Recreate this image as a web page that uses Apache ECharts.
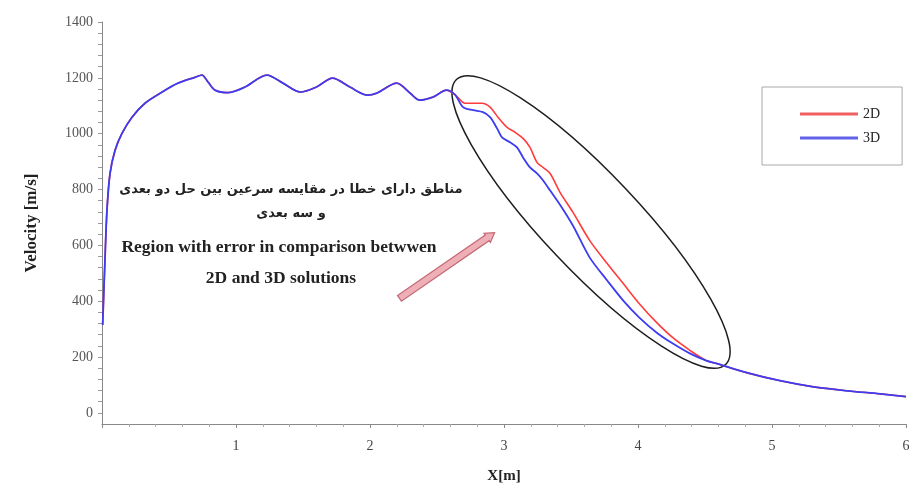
<!DOCTYPE html>
<html>
<head>
<meta charset="utf-8">
<script src="https://cdn.jsdelivr.net/npm/echarts@6/dist/echarts.min.js"></script>
<style>
html,body{margin:0;padding:0;background:#fff;}
#chart{width:912px;height:486px;}
</style>
</head>
<body>
<div id="chart"></div>
<script>
// ---- data ----
const x3D = [0.005, 0.022, 0.037, 0.06, 0.097, 0.149, 0.224, 0.321, 0.448, 0.567, 0.694, 0.746, 0.791, 0.843, 0.94, 1.067, 1.23, 1.35, 1.48, 1.60, 1.72, 1.85, 1.98, 2.05, 2.20, 2.30, 2.37, 2.47, 2.57, 2.634,
  2.694, 2.769, 2.843, 2.896, 2.948, 2.985, 3.045, 3.097, 3.142, 3.194, 3.246, 3.291, 3.343, 3.418, 3.515, 3.64, 3.77, 3.89, 4.01, 4.14, 4.26, 4.39, 4.51, 4.59,
  4.81, 5.06, 5.31, 5.56, 5.81, 6.0];
const v3D = [315, 546, 725, 858, 940, 1001, 1059, 1109, 1149, 1181, 1202, 1210, 1185, 1156, 1147, 1167, 1210, 1181, 1149, 1167, 1199, 1167, 1138, 1145, 1181, 1145, 1120, 1131, 1156, 1140,
  1095, 1084, 1077, 1059, 1019, 987, 969, 951, 915, 879, 858, 833, 797, 745, 670, 556, 474, 402, 341, 287, 248, 212, 187, 176,
  144, 115, 93, 79, 68, 58];

const x2D = [0.005, 0.022, 0.037, 0.06, 0.097, 0.149, 0.224, 0.321, 0.448, 0.567, 0.694, 0.746, 0.791, 0.843, 0.94, 1.067, 1.23, 1.35, 1.48, 1.60, 1.72, 1.85, 1.98, 2.05, 2.20, 2.30, 2.37, 2.47, 2.57, 2.634,
  2.709, 2.769, 2.836, 2.896, 2.955, 3.022, 3.082, 3.142, 3.194, 3.246, 3.291, 3.343, 3.418, 3.515, 3.64, 3.77, 3.89, 4.01, 4.14, 4.26, 4.39, 4.51, 4.59,
  4.81, 5.06, 5.31, 5.56, 5.81, 6.0];
const v2D = [315, 546, 725, 858, 940, 1001, 1059, 1109, 1149, 1181, 1202, 1210, 1185, 1156, 1147, 1167, 1210, 1181, 1149, 1167, 1199, 1167, 1138, 1145, 1181, 1145, 1120, 1131, 1156, 1140,
  1109, 1109, 1109, 1095, 1059, 1023, 1005, 983, 951, 897, 879, 858, 790, 718, 617, 535, 463, 391, 323, 269, 223, 187, 176,
  144, 115, 93, 79, 68, 58];

const yTickLabels = [0, 200, 400, 600, 800, 1000, 1200, 1400];
const xTickLabels = [1, 2, 3, 4, 5, 6];
const seriesNames = ['2D', '3D'];

const annoPersian1 = 'مناطق دارای خطا در مقایسه سرعین بین حل دو بعدی';
const annoPersian2 = 'و سه بعدی';
const annoEnglish1 = 'Region with error in comparison betwwen';
const annoEnglish2 = '2D and 3D solutions';

// ellipse defined in data space (ends of major axis)
const ellipseEndA = [2.645, 1194];
const ellipseEndB = [4.654, 173];
const arrowFrom = [2.22, 410];
const arrowTo = [2.93, 645];

// ---- build ----
const yMinorTicks = [];
for (let v = 0; v <= 1400; v += 40) yMinorTicks.push(v);

const serif = 'Liberation Serif';
const chart = echarts.init(document.getElementById('chart'));
const pair = (xs, vs) => xs.map((x, i) => [x, vs[i]]);

chart.setOption({
  animation: false,
  backgroundColor: '#fff',
  grid: {left: 102, right: 6, top: 22, bottom: 62, outerBoundsMode: 'none', containLabel: false},
  legend: {
    orient: 'vertical', left: 762, top: 87,
    padding: [19, 22, 19, 38],
    borderColor: '#aaa', borderWidth: 1,
    icon: 'rect',
    itemWidth: 58, itemHeight: 3, itemGap: 8,
    textStyle: {fontFamily: serif, fontSize: 14, color: '#222', lineHeight: 16},
    data: seriesNames
  },
  xAxis: {
    type: 'value', min: 0, max: 6, interval: 1,
    name: 'X[m]', nameLocation: 'middle', nameGap: 45,
    nameTextStyle: {fontFamily: serif, fontWeight: 'bold', fontSize: 15, color: '#222'},
    axisLine: {show: true, onZero: false, lineStyle: {color: '#888', width: 1}},
    axisTick: {show: true, length: 4, lineStyle: {color: '#888'}},
    minorTick: {show: true, splitNumber: 5, length: 3, lineStyle: {color: '#aaa'}},
    splitLine: {show: false},
    axisLabel: {
      fontFamily: serif, fontSize: 14, color: '#444', margin: 15,
      customValues: xTickLabels
    }
  },
  yAxis: {
    type: 'value', min: -40, max: 1400,
    name: 'Velocity [m/s]', nameLocation: 'middle', nameGap: 62, nameRotate: 90,
    nameTextStyle: {fontFamily: serif, fontWeight: 'bold', fontSize: 17, color: '#222'},
    axisLine: {show: true, lineStyle: {color: '#888', width: 1}},
    axisTick: {show: true, length: 4, lineStyle: {color: '#999'}, customValues: yMinorTicks},
    splitLine: {show: false},
    axisLabel: {
      fontFamily: serif, fontSize: 14, color: '#555', margin: 9,
      customValues: yTickLabels,
      formatter: (v) => String(v)
    }
  },
  series: [
    {name: seriesNames[0], type: 'line', data: pair(x2D, v2D), symbol: 'none', smooth: 0.3,
      lineStyle: {color: '#ff3c3c', width: 1.6}, itemStyle: {color: '#f06060'}},
    {name: seriesNames[1], type: 'line', data: pair(x3D, v3D), symbol: 'none', smooth: 0.3,
      lineStyle: {color: '#3c3cf0', width: 1.8}, itemStyle: {color: '#6262e8'}}
  ]
});

// annotations computed from data space
const pA = chart.convertToPixel({gridIndex: 0}, ellipseEndA);
const pB = chart.convertToPixel({gridIndex: 0}, ellipseEndB);
const ecx = (pA[0] + pB[0]) / 2, ecy = (pA[1] + pB[1]) / 2;
const erx = Math.hypot(pB[0] - pA[0], pB[1] - pA[1]) / 2;
const eAng = Math.atan2(pB[1] - pA[1], pB[0] - pA[0]);

const aF = chart.convertToPixel({gridIndex: 0}, arrowFrom);
const aT = chart.convertToPixel({gridIndex: 0}, arrowTo);
const aLen = Math.hypot(aT[0] - aF[0], aT[1] - aF[1]);
const aAng = Math.atan2(aT[1] - aF[1], aT[0] - aF[0]);
const sw = 3.4, hw = 5.5, hl = 9;

chart.setOption({
  graphic: [
    {type: 'ellipse', x: ecx, y: ecy, rotation: -eAng, silent: true,
      shape: {cx: 0, cy: 0, rx: erx, ry: 48},
      style: {fill: 'none', stroke: '#1e1e1e', lineWidth: 1.5}},
    {type: 'polygon', x: aF[0], y: aF[1], rotation: -aAng, silent: true,
      shape: {points: [[0, -sw], [aLen - hl, -sw], [aLen - hl, -hw], [aLen, 0], [aLen - hl, hw], [aLen - hl, sw], [0, sw]]},
      style: {fill: '#eeb0b6', stroke: '#c46a76', lineWidth: 1.2}},
    {type: 'text', x: 291, y: 190, silent: true,
      style: {text: annoPersian1, font: 'bold 13px "DejaVu Sans"', fill: '#222', align: 'center', verticalAlign: 'middle'}},
    {type: 'text', x: 291, y: 214, silent: true,
      style: {text: annoPersian2, font: 'bold 13px "DejaVu Sans"', fill: '#222', align: 'center', verticalAlign: 'middle'}},
    {type: 'text', x: 279, y: 247, silent: true,
      style: {text: annoEnglish1, font: 'bold 17.5px "Liberation Serif"', fill: '#222', align: 'center', verticalAlign: 'middle'}},
    {type: 'text', x: 281, y: 278, silent: true,
      style: {text: annoEnglish2, font: 'bold 17.5px "Liberation Serif"', fill: '#222', align: 'center', verticalAlign: 'middle'}}
  ]
});
</script>
</body>
</html>
